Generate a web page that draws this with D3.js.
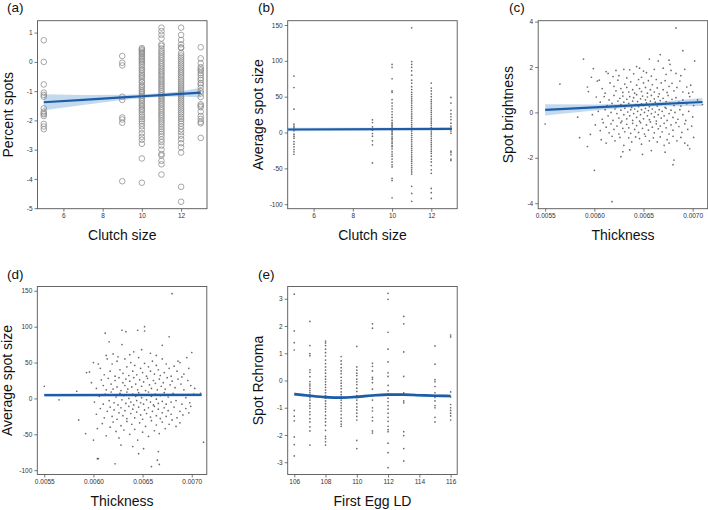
<!DOCTYPE html>
<html><head><meta charset="utf-8">
<script src="https://cdn.jsdelivr.net/npm/d3@7"></script>
<style>body{margin:0;background:#fff}svg{display:block}</style>
</head><body>
<svg id="chart" width="708" height="510"></svg>
<script>
// ---------- DATA ----------
const clutchLevels = [5, 9, 10, 11, 12, 13];
const percentSpots = [
  [0.74,0,-0.77,-1.05,-1.13,-1.19,-1.59,-1.70,-1.76,-1.79,-1.85,-2.12,-2.21,-2.30],
  [0.2,-0.03,-0.12,-1.19,-1.3,-1.9,-1.97,-2.08,-4.08],
  [0.47,0.43,0.39,0.34,0.3,0.26,0.2,0.15,0.1,0.05,0,-0.06,-0.12,-0.19,-0.26,-0.3,-0.38,-0.45,-0.51,-0.57,-0.66,-0.7,-0.79,-0.85,-0.91,-0.98,-1.03,-1.09,-1.16,-1.22,-1.28,-1.34,-1.41,-1.48,-1.53,-1.61,-1.66,-1.73,-1.81,-1.88,-1.96,-2.03,-2.11,-2.2,-2.31,-2.44,-2.56,-2.66,-2.8,-3.3,-4.13],
  [1.17,1.05,0.93,0.8,0.6,0.55,0.46,0.38,0.32,0.25,0.18,0.12,0.05,-0.02,-0.08,-0.15,-0.22,-0.29,-0.35,-0.42,-0.48,-0.56,-0.62,-0.69,-0.75,-0.82,-0.88,-0.95,-1.01,-1.08,-1.14,-1.2,-1.27,-1.33,-1.4,-1.46,-1.53,-1.6,-1.66,-1.73,-1.8,-1.86,-1.93,-2.0,-2.07,-2.14,-2.22,-2.3,-2.38,-2.46,-2.55,-2.65,-2.74,-2.86,-3.0,-3.15,-3.2,-3.38,-3.5,-3.85],
  [1.17,0.92,0.75,0.6,0.5,0.47,0.3,0.22,0.15,0.08,0.01,-0.06,-0.13,-0.2,-0.27,-0.34,-0.4,-0.47,-0.54,-0.61,-0.68,-0.75,-0.82,-0.89,-0.96,-1.03,-1.1,-1.17,-1.24,-1.31,-1.38,-1.45,-1.52,-1.59,-1.66,-1.73,-1.8,-1.88,-1.95,-2.03,-2.11,-2.2,-2.3,-2.4,-2.52,-2.64,-2.78,-2.92,-3.1,-4.27,-4.78],
  [0.5,0.12,-0.05,-0.18,-0.25,-0.3,-0.38,-0.45,-0.55,-0.62,-0.72,-0.78,-0.88,-1.0,-1.08,-1.2,-1.45,-1.5,-1.55,-1.7,-1.85,-1.95,-2.05,-2.1,-2.6]
];
const avgSpotByClutch = [
  [78.7,62.8,32.6,11.6,8.8,6.5,2.3,-2.3,-5.1,-7.9,-12.6,-16.3,-20,-23.7,-27,-30.3],
  [17.7,14,7.9,3.3,-1.4,-5.1,-11.6,-17.2,-42.4],
  [95,91,75,58,56,46,41,37,33,29,25,21,17,14,12,10,8,6,3,1,-1,-3,-6,-8,-10,-13,-15,-18,-20,-23,-27,-30,-33,-37,-41,-45,-48,-64,-67,-91],
  [146,99,95,91,86,80,73,69,64,60,56,53,50,47,44,41,38,35,32,29,26,23,20,17,14,11,8,5,2,-1,-4,-7,-10,-13,-16,-19,-22,-25,-28,-31,-34,-37,-40,-43,-46,-49,-52,-55,-58,-75,-85,-96],
  [69,62,58,54,50,46,43,40,37,34,31,28,25,22,19,16,13,10,7,4,1,-2,-5,-8,-11,-14,-17,-20,-23,-26,-29,-33,-37,-41,-46,-52,-57,-78,-84,-92],
  [49,41,31,26,22,18,13,9,6,2,-1,-26,-28,-31,-37,-39]
];
// thickness vs spot brightness
const brightnessPts = [
  [0.00589,2.35],[0.00597,1.55],[0.00599,1.93],[0.00605,1.42],[0.00612,1.8],[0.00614,1.72],[0.00619,1.58],[0.00622,1.85],[0.00625,1.62],[0.0063,1.9],[0.00633,1.52],[0.00636,1.88],[0.0064,1.7],[0.00643,2.02],[0.00646,1.95],[0.00648,1.55],[0.0065,1.82],[0.00653,1.75],[0.00656,2.35],[0.00658,1.6],[0.00661,1.9],[0.00665,2.27],[0.00667,2.55],[0.0067,1.95],[0.00673,1.68],[0.00676,2.3],[0.00678,1.85],[0.00683,1.72],[0.00688,1.62],[0.0069,2.72],[0.00692,1.9],[0.00702,2.27],[0.00683,3.72],[0.00677,2.12],
  [0.00565,1.25],[0.00593,1.12],[0.00594,0.92],[0.00603,1.38],[0.00608,1.05],[0.00611,0.85],[0.00616,1.3],[0.0062,1.15],[0.00622,0.95],[0.00624,1.42],[0.00627,1.05],[0.00629,0.88],[0.00631,1.25],[0.00633,1.1],[0.00635,0.9],[0.00637,1.35],[0.00639,1.0],[0.00641,0.85],[0.00643,1.2],[0.00645,1.45],[0.00646,1.05],[0.00648,0.92],[0.0065,1.3],[0.00652,1.1],[0.00654,0.85],[0.00655,1.4],[0.00657,1.0],[0.00659,1.22],[0.00661,0.9],[0.00663,1.45],[0.00664,1.08],[0.00666,0.82],[0.00668,1.3],[0.0067,1.0],[0.00672,1.4],[0.00674,0.88],[0.00676,1.15],[0.00679,1.28],[0.00681,0.95],[0.00684,1.1],[0.00687,1.38],[0.0069,0.9],[0.00694,1.12],[0.00698,1.2],[0.007,0.9],[0.00696,0.85],
  [0.00602,0.68],[0.00606,0.45],[0.0061,0.7],[0.00613,0.3],[0.00615,0.55],[0.00618,0.4],[0.0062,0.75],[0.00622,0.25],[0.00624,0.5],[0.00626,0.62],[0.00627,0.35],[0.00629,0.72],[0.0063,0.45],[0.00632,0.28],[0.00633,0.58],[0.00635,0.4],[0.00636,0.7],[0.00638,0.22],[0.00639,0.5],[0.0064,0.65],[0.00642,0.35],[0.00643,0.78],[0.00644,0.48],[0.00645,0.25],[0.00647,0.6],[0.00648,0.38],[0.00649,0.72],[0.0065,0.3],[0.00652,0.55],[0.00653,0.42],[0.00654,0.68],[0.00656,0.25],[0.00657,0.5],[0.00658,0.75],[0.0066,0.35],[0.00661,0.6],[0.00662,0.45],[0.00664,0.28],[0.00665,0.7],[0.00667,0.52],[0.00668,0.35],[0.0067,0.62],[0.00672,0.22],[0.00673,0.48],[0.00675,0.75],[0.00677,0.4],[0.00679,0.58],[0.00681,0.3],[0.00683,0.65],[0.00686,0.45],[0.00688,0.28],[0.0069,0.55],[0.00694,0.38],[0.00697,0.7],[0.00701,0.3],[0.00705,0.55],[0.0071,0.35],
  [0.00583,-0.21],[0.00598,-0.1],[0.00604,0.05],[0.00608,-0.3],[0.00611,0.12],[0.00614,-0.15],[0.00617,0.0],[0.00619,-0.35],[0.00621,0.15],[0.00623,-0.05],[0.00625,-0.25],[0.00627,0.1],[0.00628,-0.38],[0.0063,-0.1],[0.00631,0.18],[0.00633,-0.28],[0.00634,0.02],[0.00636,-0.15],[0.00637,0.12],[0.00639,-0.35],[0.0064,-0.05],[0.00641,0.15],[0.00643,-0.22],[0.00644,0.05],[0.00646,-0.38],[0.00647,-0.1],[0.00648,0.12],[0.0065,-0.28],[0.00651,0.0],[0.00652,0.18],[0.00654,-0.15],[0.00655,0.08],[0.00656,-0.32],[0.00658,-0.05],[0.00659,0.15],[0.00661,-0.2],[0.00662,0.02],[0.00663,-0.38],[0.00665,-0.1],[0.00666,0.12],[0.00668,-0.25],[0.00669,0.05],[0.00671,-0.15],[0.00673,0.18],[0.00674,-0.35],[0.00676,-0.05],[0.00678,0.1],[0.0068,-0.22],[0.00682,0.0],[0.00685,-0.3],[0.00687,0.12],[0.0069,-0.1],[0.00693,-0.35],[0.00696,0.05],[0.007,-0.2],
  [0.0055,-0.51],[0.00596,-0.97],[0.00601,-0.55],[0.00606,-0.8],[0.00609,-0.45],[0.00612,-0.65],[0.00615,-0.9],[0.00617,-0.5],[0.0062,-0.75],[0.00623,-0.6],[0.00625,-0.95],[0.00627,-0.45],[0.00629,-0.7],[0.00631,-0.85],[0.00633,-0.52],[0.00635,-0.68],[0.00637,-0.92],[0.00639,-0.48],[0.00641,-0.75],[0.00643,-0.58],[0.00645,-0.88],[0.00647,-0.45],[0.00649,-0.7],[0.00651,-0.95],[0.00653,-0.55],[0.00655,-0.78],[0.00657,-0.42],[0.00659,-0.65],[0.00661,-0.9],[0.00663,-0.5],[0.00665,-0.72],[0.00667,-0.6],[0.00669,-0.85],[0.00671,-0.48],[0.00673,-0.68],[0.00676,-0.95],[0.00678,-0.55],[0.0068,-0.78],[0.00683,-0.45],[0.00686,-0.62],[0.00689,-0.88],[0.00692,-0.5],[0.00695,-0.75],[0.00699,-0.6],
  [0.00585,-1.11],[0.00593,-1.5],[0.00607,-1.2],[0.00612,-1.35],[0.00618,-1.05],[0.00621,-1.25],[0.00626,-1.1],[0.0063,-1.45],[0.00635,-1.12],[0.00638,-1.3],[0.00642,-1.08],[0.00646,-1.15],[0.00648,-1.4],[0.00652,-1.05],[0.00656,-1.25],[0.0066,-1.12],[0.00664,-1.3],[0.00667,-1.08],[0.00671,-1.45],[0.00674,-1.2],[0.00676,-1.35],[0.0068,-1.05],[0.00684,-1.25],[0.00688,-1.1],[0.00692,-1.35],[0.00695,-1.45],[0.00697,-1.6],[0.00701,-1.1],
  [0.006,-2.55],[0.00618,-3.93],[0.00627,-1.95],[0.00629,-1.73],[0.00649,-1.85],[0.0068,-2.3],[0.00681,-2.1],[0.00658,-1.68],[0.00636,-1.65],[0.00672,-1.75]
];
// thickness vs average spot size
const spotSizePts = [
  [0.00612,91],[0.00616,79],[0.00613,60],[0.00629,95],[0.00633,93],[0.00629,75],[0.00645,95],[0.00652,100],[0.00652,94],[0.0068,146],[0.00677,86],[0.0067,74],[0.007,64],[0.0062,62],[0.00637,61],[0.00649,68],[0.00658,63],[0.00664,60],[0.00625,58],[0.00605,48],[0.00641,65],[0.00686,52],
  [0.00593,36],[0.00596,37],[0.006,50],[0.00607,42],[0.00611,33],[0.00614,55],[0.00617,38],[0.00619,48],[0.00622,31],[0.00624,52],[0.00627,40],[0.0063,35],[0.00632,55],[0.00634,44],[0.00636,32],[0.00638,50],[0.0064,38],[0.00642,46],[0.00644,33],[0.00646,57],[0.00648,42],[0.0065,36],[0.00652,49],[0.00654,31],[0.00656,44],[0.00658,38],[0.0066,52],[0.00662,34],[0.00664,46],[0.00666,40],[0.00668,32],[0.0067,55],[0.00672,36],[0.00674,48],[0.00677,42],[0.00679,31],[0.00682,45],[0.00685,38],[0.00688,50],[0.00692,34],[0.00695,57],[0.00697,42],[0.0069,30],
  [0.00583,10],[0.0055,17],[0.00598,22],[0.00603,14],[0.00608,26],[0.0061,18],[0.00613,12],[0.00615,28],[0.00618,20],[0.0062,13],[0.00622,25],[0.00624,16],[0.00626,29],[0.00628,11],[0.0063,22],[0.00632,18],[0.00633,27],[0.00635,13],[0.00637,24],[0.00639,16],[0.00641,29],[0.00643,20],[0.00645,12],[0.00647,26],[0.00649,17],[0.00651,23],[0.00653,11],[0.00655,28],[0.00657,19],[0.00659,14],[0.00661,25],[0.00663,21],[0.00665,12],[0.00667,27],[0.00669,17],[0.00671,22],[0.00673,13],[0.00675,29],[0.00678,19],[0.0068,24],[0.00683,15],[0.00686,27],[0.00689,20],[0.00692,12],[0.00696,25],[0.00699,18],[0.00703,14],[0.00709,7],
  [0.00565,-2],[0.00601,-5],[0.00606,3],[0.0061,-8],[0.00612,6],[0.00616,-3],[0.00618,9],[0.00621,-6],[0.00623,2],[0.00625,-9],[0.00627,7],[0.00629,-2],[0.00631,4],[0.00633,-7],[0.00634,9],[0.00636,0],[0.00638,-5],[0.0064,6],[0.00641,-9],[0.00643,3],[0.00644,-3],[0.00646,8],[0.00648,-6],[0.00649,1],[0.00651,-8],[0.00653,5],[0.00654,-2],[0.00656,9],[0.00658,-5],[0.00659,3],[0.00661,-9],[0.00663,6],[0.00664,-1],[0.00666,-7],[0.00668,4],[0.0067,-4],[0.00672,8],[0.00674,-8],[0.00676,2],[0.00679,-5],[0.00681,7],[0.00684,-3],[0.00687,5],[0.0069,-8],[0.00694,1],[0.00698,-6],[0.00702,6],
  [0.00585,-30],[0.00603,-22],[0.00607,-14],[0.00611,-27],[0.00614,-18],[0.00617,-12],[0.00619,-25],[0.00621,-16],[0.00624,-29],[0.00626,-20],[0.00628,-13],[0.0063,-24],[0.00632,-17],[0.00634,-28],[0.00636,-11],[0.00638,-21],[0.0064,-15],[0.00642,-27],[0.00644,-19],[0.00646,-12],[0.00648,-23],[0.0065,-29],[0.00652,-16],[0.00654,-21],[0.00656,-13],[0.00658,-26],[0.0066,-18],[0.00662,-11],[0.00664,-24],[0.00666,-15],[0.00668,-28],[0.0067,-20],[0.00672,-13],[0.00674,-25],[0.00676,-17],[0.00679,-22],[0.00682,-12],[0.00685,-27],[0.00688,-18],[0.00691,-23],[0.00694,-14],[0.00697,-20],[0.00699,-11],
  [0.00592,-49],[0.006,-58],[0.00604,-42],[0.00609,-35],[0.00613,-52],[0.00617,-40],[0.0062,-33],[0.00623,-46],[0.00626,-55],[0.00628,-38],[0.00631,-44],[0.00634,-32],[0.00637,-50],[0.00639,-36],[0.00642,-43],[0.00645,-58],[0.00647,-34],[0.0065,-47],[0.00653,-39],[0.00656,-53],[0.00659,-31],[0.00662,-45],[0.00664,-37],[0.00667,-49],[0.0067,-33],[0.00673,-42],[0.00677,-36],[0.0068,-30],[0.00684,-39],[0.00688,-34],[0.00712,-61],
  [0.00604,-84],[0.00605,-84],[0.00622,-91],[0.00646,-77],[0.00659,-95],[0.00665,-86],[0.00667,-92],[0.00666,-74],[0.0064,-67],[0.00628,-65],[0.00651,-70]
];
const eggDays = [106, 107, 108, 109, 110, 111, 112, 113, 115, 116];
const rchroma = [
  [3.17,1.82,1.39,1.12,-1.1,-1.31,-1.48,-2.07,-2.35,-2.77],
  [2.17,1.28,0.99,0.91,0.39,0.3,0.14,-0.04,-0.13,-0.2,-0.29,-0.37,-0.45,-0.53,-0.63,-0.72,-0.84,-0.93,-1.02,-1.15,-1.25,-1.4,-1.52,-1.7,-1.85,-2.37],
  [1.45,1.38,1.28,1.15,1.02,0.9,0.75,0.62,0.5,0.38,0.27,0.15,0.05,-0.05,-0.15,-0.25,-0.35,-0.45,-0.55,-0.65,-0.75,-0.85,-0.95,-1.05,-1.15,-1.28,-1.4,-1.52,-1.65,-1.83,-2.05,-2.13,-2.25,-2.37],
  [0.88,0.72,0.6,0.47,0.35,0.25,0.12,0.0,-0.1,-0.2,-0.3,-0.42,-0.52,-0.62,-0.72,-0.82,-0.92,-1.02,-1.12,-1.25,-1.38,-1.5,-1.6,-1.68],
  [1.25,0.5,0.38,0.27,0.18,0.05,-0.05,-0.15,-0.28,-0.4,-0.55,-0.62,-0.72,-0.85,-0.97,-1.08,-1.2,-1.32,-1.45,-2.2,-2.5],
  [2.08,1.92,0.63,0.52,0.35,0.12,0.05,-0.08,-0.32,-0.55,-0.72,-1.0,-1.12,-1.35,-1.48,-1.85,-1.93],
  [3.2,2.98,1.77,1.15,0.68,0.28,0.15,-0.18,-0.38,-0.5,-0.65,-0.78,-0.92,-1.05,-1.2,-1.35,-1.5,-1.68,-1.8,-1.88,-2.3,-2.65,-3.2],
  [2.35,2.08,1.05,0.15,-0.45,-0.75,-0.82,-1.88,-2.02,-2.5,-2.95],
  [1.27,0.6,0.03,-0.05,-0.22,-0.45,-0.55,-0.62,-0.75,-0.92,-1.0,-1.35,-1.52],
  [1.67,1.6,-0.42,-0.6,-0.88,-1.0,-1.1,-1.2,-1.3,-1.45]
];
// fitted lines: x, fit, half-width of confidence band
const fitA = {x:[5,7,9,10,11,12,13], y:[-1.38,-1.30,-1.215,-1.175,-1.135,-1.09,-1.05], h:[0.27,0.17,0.09,0.065,0.06,0.09,0.17]};
const fitB = {x:[4.7,13.05], y:[4.2,5.0], h:[2.5,2.0]};
const fitC = {x:[0.0055,0.006,0.0065,0.0071], y:[0.11,0.22,0.33,0.46], h:[0.25,0.13,0.07,0.18]};
const fitD = {x:[0.0055,0.0071], y:[4.6,5.0], h:[2.2,2.2]};
const fitE = {x:[106,107,108,109,110,111,112,113,114,115,116], y:[-0.5,-0.56,-0.61,-0.63,-0.6,-0.55,-0.52,-0.52,-0.54,-0.56,-0.57], h:[0.06,0.05,0.05,0.05,0.05,0.05,0.05,0.05,0.05,0.05,0.06]};

const clutchTicks = [6, 8, 10, 12];
const thickTicks = [0.0055, 0.006, 0.0065, 0.007];
const eggTicks = [106, 108, 110, 112, 114, 116];

// ---------- DRAW ----------
const svg = d3.select("#chart");
const FONT = "'Liberation Sans', Arial, Helvetica, sans-serif";
const W = 169.5, H = 188;
const LINE = "#1f5ca6", BAND = "#b9d3eb";
const hy = s => (s < 0 ? "-" + String(-s) : String(s));

function panel(o) {
  const g = svg.append("g").attr("transform", `translate(${o.left},${o.top})`);
  const x = d3.scaleLinear().domain(o.xd).range([0, W]);
  const y = d3.scaleLinear().domain(o.yd).range([H, 0]);

  // band + line
  const f = o.fit;
  const fd = f.x.map((v, i) => ({x: v, y: f.y[i], h: f.h[i]}));
  const curve = o.curve || d3.curveLinear;
  g.append("path").datum(fd)
    .attr("d", d3.area().x(d => x(d.x)).y0(d => y(d.y - d.h)).y1(d => y(d.y + d.h)).curve(curve))
    .attr("fill", BAND).attr("opacity", 0.85);

  // points
  if (o.open) {
    g.append("g").selectAll("circle").data(o.pts).join("circle")
      .attr("cx", d => x(d[0])).attr("cy", d => y(d[1])).attr("r", 2.8)
      .attr("fill", "none").attr("stroke", "#8a8a8a").attr("stroke-width", 0.75);
  } else {
    g.append("g").selectAll("circle").data(o.pts).join("circle")
      .attr("cx", d => x(d[0])).attr("cy", d => y(d[1])).attr("r", 0.85)
      .attr("fill", "#5a5a5a").attr("opacity", 0.9);
  }

  g.append("path").datum(fd)
    .attr("d", d3.line().x(d => x(d.x)).y(d => y(d.y)).curve(curve))
    .attr("fill", "none").attr("stroke", LINE).attr("stroke-width", o.lw || 2.2);

  // frame
  g.append("rect").attr("x", 0).attr("y", 0).attr("width", W).attr("height", H)
    .attr("fill", "none").attr("stroke", "#555").attr("stroke-width", 0.9);

  // axes
  const xa = g.append("g").attr("transform", `translate(0,${H})`)
    .call(d3.axisBottom(x).tickValues(o.xt).tickSize(3).tickPadding(2).tickFormat(o.xf));
  const ya = g.append("g")
    .call(d3.axisLeft(y).tickValues(o.yt).tickSize(3).tickPadding(2).tickFormat(hy));
  [xa, ya].forEach(a => {
    a.select(".domain").remove();
    a.selectAll("line").attr("stroke", "#555").attr("stroke-width", 0.8);
    a.selectAll("text").attr("fill", "#333").style("font-family", FONT).style("font-size", "6.5px");
  });

  // titles
  g.append("text").attr("x", W / 2).attr("y", H + 31.5).attr("text-anchor", "middle")
    .style("font-family", FONT).style("font-size", "14px").attr("fill", "#111").text(o.xl);
  g.append("text").attr("transform", `translate(-25,${H / 2}) rotate(-90)`).attr("text-anchor", "middle")
    .style("font-family", FONT).style("font-size", "14px").attr("fill", "#111").text(o.yl);
  svg.append("text").attr("x", o.lx).attr("y", o.ly)
    .style("font-family", FONT).style("font-size", "13.5px").attr("fill", "#111").text(o.tag);
}

const flat = (levels, groups) => levels.flatMap((lv, i) => groups[i].map(v => [lv, v]));

panel({left: 37.5, top: 20.7, xd: [4.68, 13.32], yd: [-5.018, 1.408], xt: clutchTicks, yt: [-5,-4,-3,-2,-1,0,1],
  xf: d3.format("d"), pts: flat(clutchLevels, percentSpots), open: true, fit: fitA,
  xl: "Clutch size", yl: "Percent spots", tag: "(a)", lx: 7, ly: 12});
panel({left: 287.7, top: 20.7, xd: [4.68, 13.32], yd: [-106.3, 156], xt: clutchTicks, yt: [-100,-50,0,50,100,150],
  xf: d3.format("d"), pts: flat(clutchLevels, avgSpotByClutch), fit: fitB,
  xl: "Clutch size", yl: "Average spot size", tag: "(b)", lx: 258, ly: 12});
panel({left: 538.2, top: 20.7, xd: [0.005429, 0.007153], yd: [-4.24, 4.04], xt: thickTicks, yt: [-4,-2,0,2,4],
  xf: d3.format(".4f"), pts: brightnessPts, fit: fitC,
  xl: "Thickness", yl: "Spot brightness", tag: "(c)", lx: 509, ly: 12});
panel({left: 37.3, top: 286.5, xd: [0.005429, 0.007153], yd: [-106, 156], xt: thickTicks, yt: [-100,-50,0,50,100,150],
  xf: d3.format(".4f"), pts: spotSizePts, fit: fitD,
  xl: "Thickness", yl: "Average spot size", tag: "(d)", lx: 7, ly: 278.5});
panel({left: 287.7, top: 286.5, xd: [105.58, 116.42], yd: [-3.45, 3.45], xt: eggTicks, yt: [-3,-2,-1,0,1,2,3],
  xf: d3.format("d"), pts: flat(eggDays, rchroma), fit: fitE, curve: d3.curveMonotoneX, lw: 2.6,
  xl: "First Egg LD", yl: "Spot Rchroma", tag: "(e)", lx: 258, ly: 278.5});
</script>
</body></html>
